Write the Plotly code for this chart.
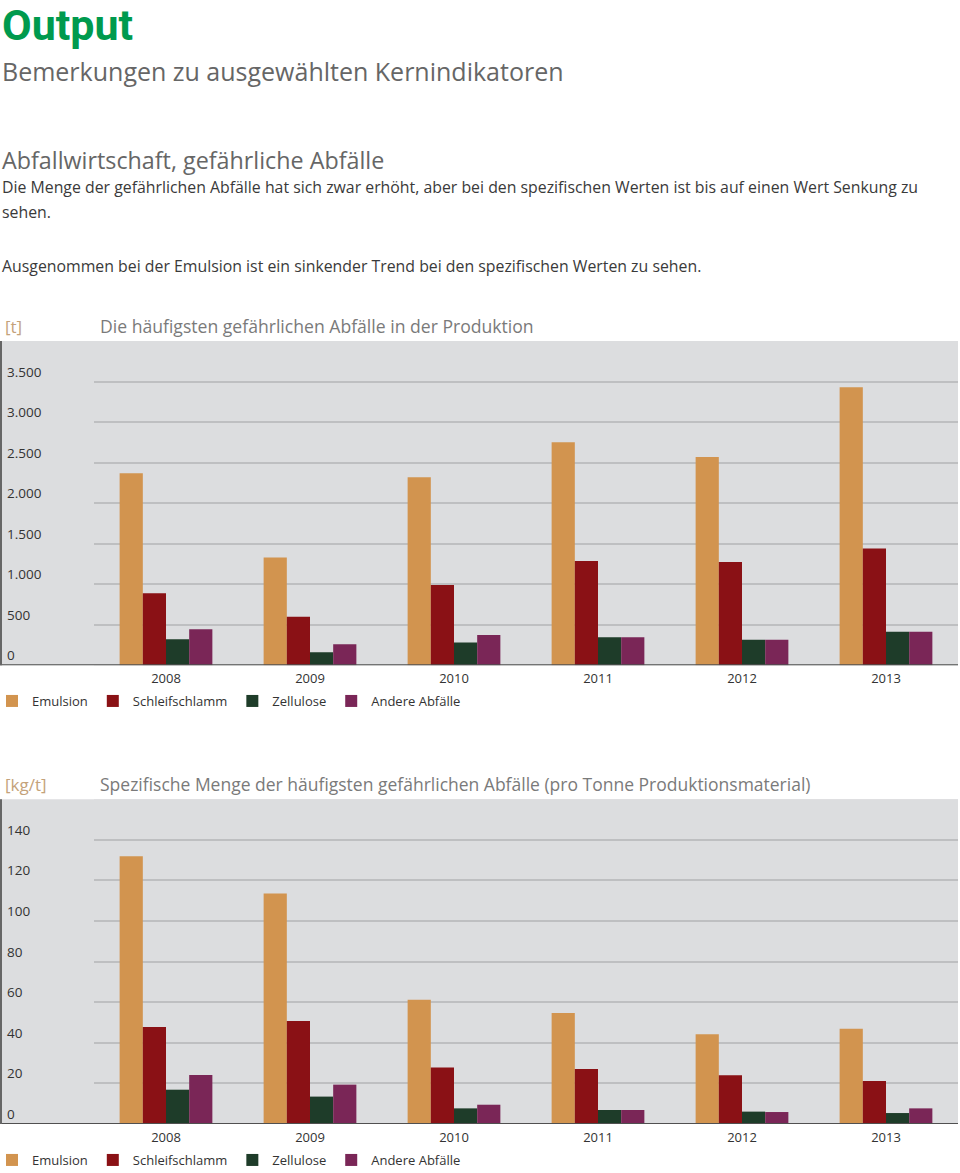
import plotly.graph_objects as go

W, H = 960, 1173

years = ["2008", "2009", "2010", "2011", "2012", "2013"]
series_names = ["Emulsion", "Schleifschlamm", "Zellulose", "Andere Abfälle"]
series_colors = ["#D2944F", "#8A1115", "#1E3C29", "#7A2657"]

# chart 1: tonnes
emulsion_t = [2370, 1330, 2320, 2750, 2570, 3430]
schleifschlamm_t = [890, 600, 990, 1285, 1275, 1440]
zellulose_t = [320, 160, 280, 345, 315, 415]
andere_t = [445, 260, 375, 345, 315, 415]

# chart 2: kg per tonne
emulsion_kg = [131.9, 113.6, 61.2, 54.7, 44.2, 46.9]
schleifschlamm_kg = [47.8, 50.7, 27.9, 27.1, 24.0, 21.2]
zellulose_kg = [16.9, 13.5, 7.7, 6.9, 6.1, 5.4]
andere_kg = [24.1, 19.4, 9.5, 6.9, 5.9, 7.7]

tickvals_t = [0, 500, 1000, 1500, 2000, 2500, 3000, 3500]
ticktext_t = ["0", "500", "1.000", "1.500", "2.000", "2.500", "3.000", "3.500"]
tickvals_kg = [0, 20, 40, 60, 80, 100, 120, 140]
ticktext_kg = ["0", "20", "40", "60", "80", "100", "120", "140"]

BG = "#DCDDDF"
GRID = "#BEBFC1"
FONT = "Open Sans"


def px(x):
    return x / W


def py(y):
    return 1 - y / H


fig = go.Figure()

data_t = [emulsion_t, schleifschlamm_t, zellulose_t, andere_t]
data_kg = [emulsion_kg, schleifschlamm_kg, zellulose_kg, andere_kg]

for name, color, vals in zip(series_names, series_colors, data_t):
    fig.add_trace(go.Bar(x=years, y=vals, name=name, marker=dict(color=color, line=dict(width=0)),
                         xaxis="x", yaxis="y", legend="legend"))
for name, color, vals in zip(series_names, series_colors, data_kg):
    fig.add_trace(go.Bar(x=years, y=vals, name=name, marker=dict(color=color, line=dict(width=0)),
                         xaxis="x2", yaxis="y2", legend="legend2"))

axis_x = dict(type="category", showgrid=False, zeroline=False, showline=False, ticks="",
              tickfont=dict(family=FONT, size=13, color="#333333"), ticklabelstandoff=4,
              fixedrange=True)
axis_y = dict(showgrid=True, gridcolor=GRID, gridwidth=1.5, zeroline=False, showline=False,
              showticklabels=False, ticks="", fixedrange=True)

fig.update_layout(
    width=W, height=H,
    margin=dict(l=0, r=0, t=0, b=0, autoexpand=False),
    paper_bgcolor="white", plot_bgcolor=BG,
    barmode="group", bargap=0.356, bargroupgap=0,
    font=dict(family=FONT, color="#333333"),
    xaxis=dict(axis_x, domain=[px(94), px(958)], anchor="y"),
    yaxis=dict(axis_y, domain=[py(665.3), py(341)], range=[0, 4000], tickvals=tickvals_t, anchor="x"),
    xaxis2=dict(axis_x, domain=[px(94), px(958)], anchor="y2"),
    yaxis2=dict(axis_y, domain=[py(1124), py(799.3)], range=[0, 160], tickvals=tickvals_kg, anchor="x2"),
    legend=dict(orientation="h", x=px(-8), xanchor="left", y=py(701), yanchor="middle",
                font=dict(family=FONT, size=13, color="#333333"), itemwidth=30,
                bgcolor="rgba(0,0,0,0)", tracegroupgap=0, itemclick=False, itemdoubleclick=False),
    legend2=dict(orientation="h", x=px(-8), xanchor="left", y=py(1160), yanchor="middle",
                 font=dict(family=FONT, size=13, color="#333333"), itemwidth=30,
                 bgcolor="rgba(0,0,0,0)", tracegroupgap=0, itemclick=False, itemdoubleclick=False),
    showlegend=True,
)

shapes = []
for yr in ["y", "y2"]:
    shapes.append(dict(type="rect", xref="paper", yref=yr + " domain", x0=0, x1=px(958), y0=0, y1=1,
                       fillcolor=BG, line=dict(width=0), layer="below"))
    shapes.append(dict(type="line", xref="paper", yref=yr, x0=0, x1=px(958), y0=0, y1=0,
                       line=dict(color="#505050", width=2), layer="above"))
    shapes.append(dict(type="line", xref="paper", yref=yr + " domain", x0=px(1), x1=px(1), y0=0, y1=1,
                       line=dict(color="#666666", width=2), layer="above"))
fig.update_layout(shapes=shapes)

ann = []
for v, t in zip(tickvals_t, ticktext_t):
    ann.append(dict(xref="paper", yref="y", x=px(5), y=v, text=t, showarrow=False, xanchor="left",
                    yanchor="bottom", yshift=-1, font=dict(family=FONT, size=13.5, color="#333333")))
for v, t in zip(tickvals_kg, ticktext_kg):
    ann.append(dict(xref="paper", yref="y2", x=px(5), y=v, text=t, showarrow=False, xanchor="left",
                    yanchor="bottom", yshift=-1, font=dict(family=FONT, size=13.5, color="#333333")))


def text(x, y, s, size, color, family=FONT, weight=None):
    f = dict(family=family, size=size, color=color)
    if weight:
        f["weight"] = weight
    ann.append(dict(xref="paper", yref="paper", x=px(x), y=py(y), text=s, showarrow=False,
                    xanchor="left", yanchor="middle", font=f))


text(0, 25, "Output", 43, "#009A4E", family="Roboto", weight=700)
text(0, 71, "Bemerkungen zu ausgewählten Kernindikatoren", 25, "#666666")
text(0, 160, "Abfallwirtschaft, gefährliche Abfälle", 23.3, "#666666")
text(0, 187, "Die Menge der gefährlichen Abfälle hat sich zwar erhöht, aber bei den spezifischen Werten ist bis auf einen Wert Senkung zu", 15.85, "#3A3A3A")
text(0, 212, "sehen.", 15.85, "#3A3A3A")
text(0, 266, "Ausgenommen bei der Emulsion ist ein sinkender Trend bei den spezifischen Werten zu sehen.", 15.85, "#3A3A3A")
text(3, 326, "[t]", 17, "#C4A27A")
text(98, 326, "Die häufigsten gefährlichen Abfälle in der Produktion", 17.6, "#7A7A7A")
text(3, 784, "[kg/t]", 17, "#C4A27A")
text(98, 784, "Spezifische Menge der häufigsten gefährlichen Abfälle (pro Tonne Produktionsmaterial)", 17.5, "#7A7A7A")

fig.update_layout(annotations=ann)

fig.write_html("out.html", config={"displayModeBar": False},
               post_script="document.body.style.margin='0';document.body.style.overflow='hidden';")
